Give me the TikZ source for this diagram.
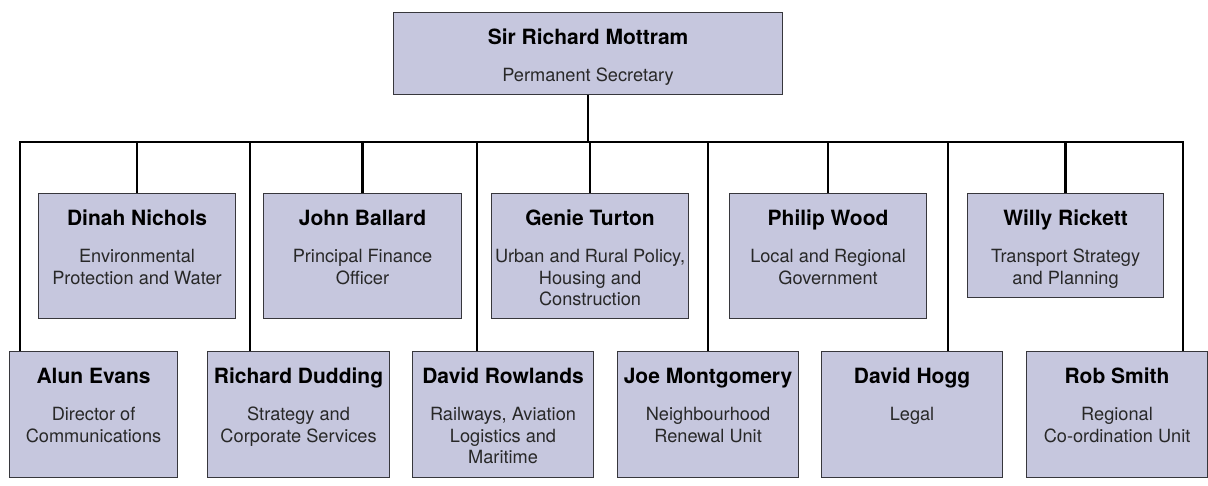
\documentclass[tikz,border=0pt]{standalone}
\usepackage{fontspec}
\setmainfont{TeX Gyre Heros}
\usetikzlibrary{positioning,calc}

\definecolor{boxfill}{RGB}{198,199,222}
\definecolor{boxline}{RGB}{55,55,60}
\definecolor{roletext}{RGB}{40,40,40}

% width, height, name, role
\newcommand{\member}[4]{%
  \parbox[t][#2pt][t]{#1pt}{\centering\rule{0pt}{32pt}{\fontsize{21}{24}\selectfont\bfseries #3}\par
  \vspace{15.5pt}\fontsize{18.2}{21.5}\selectfont\color{roletext}#4\par}}

\begin{document}
\begin{tikzpicture}[
    x=1pt, y=-1pt,
    post/.style={draw=boxline, fill=boxfill, line width=1.1pt, inner sep=0pt, anchor=north west},
    link/.style={draw=black, line width=2.6pt}
]
\useasboundingbox (0,0) rectangle (1208,485);

\node[post] (mottram) at (393,12) {\member{389}{82}{Sir Richard Mottram}{Permanent Secretary}};
\coordinate (bus) at ($(mottram.south)+(0,47)$);

% upper row
\node[post] (nichols) at (38,193) {\member{197}{125}{Dinah Nichols}{Environmental\\Protection and Water}};
\node[post] (ballard) at (263,193) {\member{198}{125}{John Ballard}{Principal Finance\\Officer}};
\node[post] (turton) at (491,193) {\member{197}{125}{Genie Turton}{Urban and Rural Policy,\\Housing and\\Construction}};
\node[post] (wood) at (729,193) {\member{197}{125}{Philip Wood}{Local and Regional\\Government}};
\node[post] (rickett) at (967,193) {\member{196}{104}{Willy Rickett}{Transport Strategy\\and Planning}};

% lower row
\node[post] (evans) at (9,351) {\member{168}{126}{Alun Evans}{Director of\\Communications}};
\node[post] (dudding) at (207,351) {\member{182}{126}{Richard Dudding}{Strategy and\\Corporate Services}};
\node[post] (rowlands) at (412,351) {\member{181}{126}{David Rowlands}{Railways, Aviation\\Logistics and\\Maritime}};
\node[post] (montgomery) at (617,351) {\member{181}{126}{Joe Montgomery}{Neighbourhood\\Renewal Unit}};
\node[post] (hogg) at (821,351) {\member{181}{126}{David Hogg}{Legal}};
\node[post] (smith) at (1026,351) {\member{181}{126}{Rob Smith}{Regional\\Co-ordination Unit}};

\draw[link] (mottram.south) -- (bus);
\foreach \n in {nichols,ballard,turton,wood,rickett}
  \draw[link] (bus) -| (\n.north);
\foreach \n/\x in {evans/20,dudding/250,rowlands/477,montgomery/708,hogg/948,smith/1183}
  \draw[link] (bus) -| (\n.north -| \x,0);

\end{tikzpicture}
\end{document}
